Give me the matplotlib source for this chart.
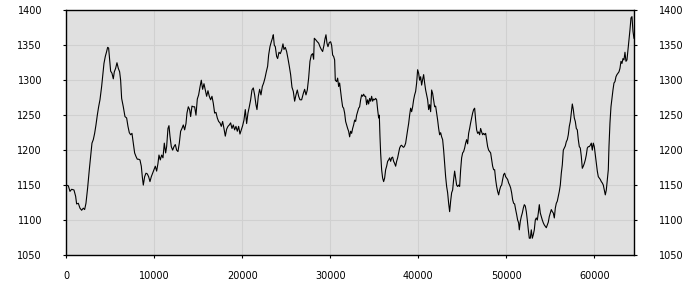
import matplotlib
matplotlib.use("Agg")
import matplotlib.pyplot as plt

x_vals = [0, 230, 417, 606, 871, 1060, 1174, 1364, 1553, 1742, 1932, 2083, 2235, 2424, 2614, 2803,
          2917, 3068, 3220, 3371, 3523, 3674, 3826, 4015, 4129, 4280, 4432, 4583, 4697, 4811, 4924,
          5038, 5190, 5341, 5455, 5606, 5758, 5909, 6061, 6174, 6288, 6477, 6667, 6856, 7008, 7159,
          7311, 7462, 7614, 7765, 7917, 8068, 8220, 8371, 8523, 8636, 8750, 8902, 9053, 9205, 9356,
          9508, 9659, 9811, 9962, 10114, 10265, 10417, 10531, 10682, 10834, 10985, 11137, 11288,
          11402, 11553, 11667, 11781, 11932, 12084, 12235, 12387, 12538, 12690, 12841, 12993, 13144,
          13296, 13447, 13599, 13712, 13864, 14015, 14129, 14280, 14432, 14583, 14735, 14886, 15038,
          15189, 15341, 15492, 15644, 15795, 15947, 16098, 16250, 16401, 16553, 16704, 16856, 17007,
          17159, 17310, 17462, 17613, 17765, 17916, 18068, 18220, 18371, 18523, 18674, 18826, 18977,
          19129, 19280, 19432, 19583, 19735, 19886, 20038, 20189, 20341, 20492, 20644, 20795, 20947,
          21098, 21250, 21401, 21553, 21667, 21818, 21970, 22121, 22273, 22424, 22576, 22727, 22879,
          22992, 23144, 23295, 23447, 23523, 23636, 23750, 23902, 24015, 24167, 24318, 24470, 24621,
          24735, 24886, 25038, 25189, 25341, 25492, 25644, 25796, 25947, 26099, 26250, 26402, 26553,
          26743, 26932, 27083, 27235, 27386, 27538, 27689, 27841, 27992, 28106, 28182, 28333, 28523,
          28674, 28826, 28977, 29129, 29280, 29394, 29508, 29621, 29735, 29886, 30038, 30152, 30265,
          30379, 30493, 30568, 30720, 30833, 30947, 31061, 31174, 31288, 31402, 31515, 31629, 31742,
          31856, 31970, 32083, 32197, 32311, 32424, 32538, 32652, 32765, 32879, 32992, 33106, 33220,
          33333, 33447, 33561, 33674, 33788, 33902, 34015, 34129, 34242, 34356, 34470, 34583, 34697,
          34811, 34924, 35038, 35152, 35265, 35379, 35492, 35568, 35644, 35720, 35833, 35947, 36061,
          36174, 36288, 36402, 36515, 36629, 36742, 36856, 36970, 37083, 37197, 37311, 37424, 37538,
          37652, 37765, 37879, 37992, 38106, 38220, 38333, 38447, 38561, 38674, 38788, 38902, 39015,
          39129, 39242, 39356, 39470, 39583, 39697, 39811, 39924, 40038, 40152, 40265, 40379, 40492,
          40606, 40720, 40833, 40947, 41061, 41174, 41288, 41402, 41515, 41629, 41742, 41856, 41970,
          42083, 42197, 42311, 42424, 42538, 42652, 42765, 42879, 42992, 43106, 43220, 43333, 43447,
          43561, 43674, 43788, 43902, 44015, 44129, 44242, 44356, 44470, 44583, 44697, 44811, 44924,
          45038, 45152, 45265, 45379, 45492, 45606, 45720, 45833, 45947, 46061, 46174, 46288, 46402,
          46515, 46629, 46742, 46856, 46970, 47083, 47197, 47311, 47424, 47538, 47652, 47765, 47879,
          47992, 48106, 48220, 48333, 48447, 48561, 48674, 48788, 48902, 49015, 49129, 49242, 49356,
          49470, 49583, 49697, 49811, 49924, 50038, 50152, 50265, 50379, 50492, 50606, 50720, 50833,
          50947, 51061, 51174, 51288, 51402, 51477, 51591, 51705, 51818, 51932, 52045, 52159, 52273,
          52386, 52500, 52614, 52727, 52841, 52955, 53068, 53182, 53295, 53409, 53523, 53636, 53750,
          53864, 53977, 54091, 54205, 54318, 54432, 54545, 54659, 54773, 54886, 55000, 55114, 55227,
          55341, 55455, 55568, 55682, 55795, 55909, 56023, 56136, 56250, 56364, 56477, 56591, 56705,
          56818, 56932, 57045, 57159, 57273, 57386, 57500, 57614, 57727, 57841, 57955, 58068, 58182,
          58295, 58409, 58523, 58636, 58750, 58864, 58977, 59091, 59205, 59318, 59432, 59545, 59659,
          59773, 59886, 60000, 60114, 60227, 60341, 60455, 60568, 60682, 60795, 60909, 61023, 61136,
          61250, 61364, 61477, 61591, 61667, 61780, 61894, 62008, 62121, 62235, 62348, 62462, 62576,
          62689, 62803, 62917, 63030, 63144, 63258, 63371, 63485, 63598, 63712, 63826, 63939, 64053,
          64167, 64280, 64394, 64508]

y_vals = [1150, 1149, 1141, 1144, 1143, 1134, 1123, 1124, 1117, 1114, 1117, 1115, 1124, 1146, 1172, 1196,
          1210, 1215, 1224, 1236, 1250, 1262, 1272, 1291, 1305, 1324, 1334, 1341, 1347, 1346, 1329,
          1313, 1310, 1302, 1312, 1317, 1325, 1317, 1312, 1300, 1274, 1262, 1248, 1246, 1234, 1225,
          1222, 1224, 1210, 1196, 1191, 1187, 1187, 1186, 1177, 1162, 1150, 1162, 1167, 1166, 1162,
          1155, 1162, 1167, 1172, 1177, 1170, 1181, 1193, 1186, 1193, 1189, 1210, 1196,
          1205, 1231, 1235, 1220, 1205, 1200, 1205, 1208, 1200, 1198, 1210, 1227, 1231,
          1236, 1229, 1238, 1253, 1262, 1258, 1248, 1263, 1262, 1262, 1250, 1273, 1279,
          1290, 1300, 1287, 1295, 1286, 1277, 1285, 1277, 1272, 1277, 1267, 1253, 1254,
          1246, 1241, 1239, 1234, 1241, 1231, 1220, 1230, 1234, 1236, 1239, 1231, 1236,
          1229, 1234, 1227, 1234, 1223, 1229, 1235, 1243, 1258, 1238, 1253, 1262, 1272,
          1286, 1289, 1279, 1265, 1258, 1277, 1287, 1279, 1291, 1296, 1303, 1312, 1320,
          1336, 1348, 1355, 1361, 1365, 1350, 1348, 1334, 1331, 1340, 1338, 1343, 1352,
          1344, 1347, 1341, 1331, 1320, 1308, 1290, 1284, 1270, 1279, 1286, 1277, 1272,
          1272, 1281, 1287, 1279, 1286, 1303, 1327, 1336, 1338, 1330, 1360, 1358, 1355,
          1353, 1348, 1344, 1341, 1350, 1359, 1365, 1353, 1348, 1354, 1355, 1350, 1336,
          1334, 1329, 1300, 1298, 1303, 1291, 1296, 1284, 1272, 1262, 1260, 1253, 1241,
          1236, 1231, 1227, 1219, 1227, 1224, 1231, 1236, 1243, 1241, 1250, 1255, 1260,
          1262, 1272, 1279, 1277, 1280, 1277, 1277, 1265, 1272, 1266, 1274, 1270, 1277,
          1270, 1273, 1272, 1274, 1272, 1258, 1246, 1250, 1220, 1196, 1172, 1160, 1155,
          1160, 1172, 1177, 1184, 1186, 1189, 1184, 1189, 1190, 1184, 1181, 1177, 1184,
          1189, 1196, 1203, 1206, 1207, 1205, 1204, 1206, 1210, 1220, 1229, 1238, 1250,
          1260, 1255, 1262, 1272, 1279, 1284, 1296, 1315, 1310, 1300, 1305, 1293, 1301,
          1308, 1296, 1286, 1279, 1272, 1258, 1265, 1255, 1286, 1281, 1272, 1262, 1263,
          1253, 1243, 1231, 1222, 1225, 1219, 1215, 1200, 1181, 1162, 1148, 1139, 1124,
          1112, 1127, 1139, 1143, 1158, 1170, 1160, 1150, 1148, 1150, 1148, 1172, 1189,
          1196, 1198, 1203, 1210, 1215, 1209, 1224, 1231, 1239, 1246, 1253, 1258, 1260,
          1243, 1229, 1224, 1226, 1222, 1231, 1226, 1222, 1224, 1222, 1224, 1215, 1205,
          1200, 1198, 1196, 1186, 1177, 1172, 1172, 1158, 1148, 1141, 1136, 1143, 1148,
          1150, 1158, 1165, 1167, 1162, 1160, 1158, 1153, 1150, 1146, 1139, 1129, 1124,
          1123, 1115, 1108, 1100, 1096, 1086, 1098, 1105, 1110, 1117, 1122, 1120, 1112,
          1100, 1086, 1074, 1074, 1086, 1074, 1079, 1086, 1100, 1103, 1100, 1110, 1122,
          1110, 1105, 1100, 1096, 1093, 1091, 1089, 1093, 1097, 1105, 1110, 1115, 1112,
          1110, 1103, 1117, 1124, 1127, 1134, 1141, 1150, 1167, 1179, 1200, 1203, 1206,
          1212, 1215, 1222, 1234, 1241, 1253, 1266, 1258, 1246, 1241, 1231, 1229, 1215,
          1205, 1203, 1191, 1174, 1177, 1181, 1186, 1193, 1203, 1205, 1205, 1207, 1210,
          1200, 1210, 1205, 1193, 1181, 1170, 1162, 1160, 1158, 1155, 1153, 1150, 1143,
          1136, 1143, 1158, 1172, 1205, 1239, 1262, 1274, 1286, 1296, 1298, 1305, 1308,
          1310, 1312, 1317, 1327, 1324, 1331, 1329, 1340, 1327, 1329, 1343, 1358, 1372,
          1389, 1391, 1370, 1360]

x_ticks = [0, 10000, 20000, 30000, 40000, 50000, 60000]
y_ticks = [1050, 1100, 1150, 1200, 1250, 1300, 1350, 1400]

fig = plt.figure(figsize=(7, 3), dpi=100)
ax = fig.add_axes([66.3 / 700, 45 / 300, (634.3 - 66.3) / 700, (255 - 10.3) / 300])
ax.set_facecolor("#e0e0e0")
ax.plot(x_vals, y_vals, color="black", linewidth=0.8)
ax.set_xlim(0, 64545)
ax.set_ylim(1050, 1400)
ax.set_xticks(x_ticks)
ax.set_yticks(y_ticks)
ax.set_xticklabels([str(v) for v in x_ticks])
ax.set_yticklabels([str(v) for v in y_ticks])
ax.grid(True, color="#d0d0d0", linewidth=0.8)
ax.set_axisbelow(True)
for s in ax.spines.values():
    s.set_color("black")
    s.set_linewidth(1.0)
ax.tick_params(axis="y", which="both", left=True, right=True, labelleft=True, labelright=True,
               length=2.5, width=0.8, direction="out", pad=15, labelsize=7)
ax.tick_params(axis="x", length=2.5, width=0.8, direction="out", pad=9, labelsize=7)
for lbl in ax.get_yticklabels():
    pass
fig.savefig("out.png", dpi=100)
